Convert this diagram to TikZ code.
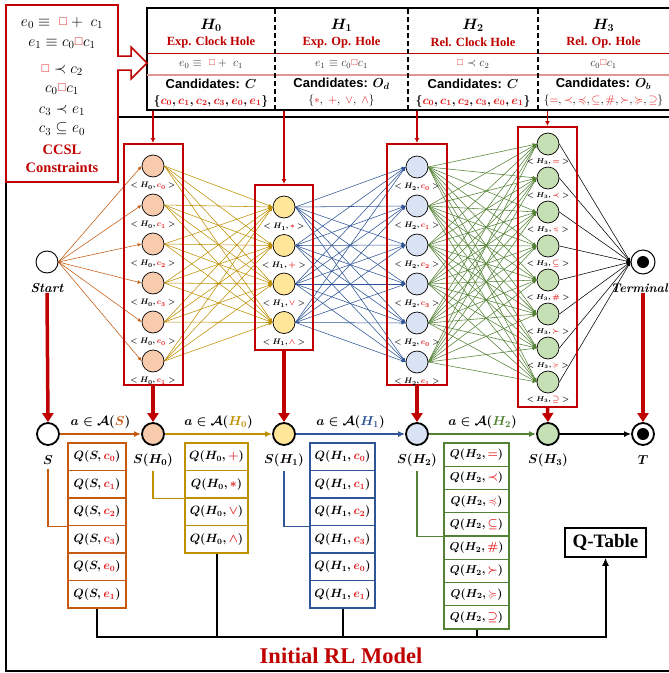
\documentclass[tikz,border=0pt]{standalone}
\usepackage{fix-cm}
\usepackage{graphicx}
\usepackage{amsmath,amssymb}
\usepackage[no-math]{fontspec}
\usetikzlibrary{arrows.meta}
\newfontfamily\serifb{Liberation Serif}
\newfontfamily\sansb{Liberation Sans}
\definecolor{cred}{RGB}{192,0,0}
\definecolor{tred}{RGB}{225,25,25}
\definecolor{lred}{RGB}{225,150,150}
\definecolor{corange}{RGB}{197,90,17}
\definecolor{cgold}{RGB}{191,144,0}
\definecolor{cblue}{RGB}{47,85,151}
\definecolor{cgreen}{RGB}{84,130,53}
\definecolor{fpeach}{RGB}{248,203,173}
\definecolor{fyellow}{RGB}{255,230,153}
\definecolor{fblue}{RGB}{218,227,243}
\definecolor{fgreen}{RGB}{197,224,180}
\definecolor{fgray}{RGB}{50,50,50}
\newcommand{\rc}[1]{\textcolor{tred}{#1}}
\newcommand{\sq}{\mathord{\textcolor{tred}{\raisebox{0.15ex}{\scalebox{0.72}{$\square$}}}}}
\newcommand{\myfs}[1]{\fontsize{#1}{#1}\selectfont}
\pgfdeclarelayer{bg}
\pgfsetlayers{bg,main}
\begin{document}
\begin{tikzpicture}[x=1pt,y=-1pt,
  net/.style={circle,draw=black,line width=0.7pt,minimum size=22pt,inner sep=0pt},
  st/.style={circle,draw=black,line width=1.8pt,minimum size=22pt,inner sep=0pt},
  nlab/.style={inner sep=0pt,font=\myfs{8}\boldmath},
  nlabs/.style={inner sep=0pt,font=\myfs{7}\boldmath},
  slab/.style={inner sep=0pt,font=\myfs{13}\boldmath},
  boxr/.style={draw=cred,line width=2pt,inner sep=0pt},
  tarr/.style={draw=cred,line width=1.2pt,-{Latex[length=5pt,width=5pt]}},
  barr/.style={draw=cred,line width=3.5pt,-{Triangle[length=9pt,width=11pt]}},
  edg/.style={line width=0.55pt,-{Latex[length=4pt,width=3.5pt]}},
  qcell/.style={draw,line width=1.3pt,fill=white,inner sep=0pt,font=\myfs{12}\boldmath},
  conn/.style={line width=1.3pt},
  flow/.style={line width=1.8pt,-{Latex[length=7pt,width=6pt]}},
  hdr/.style={inner sep=0pt,font=\myfs{15}\boldmath},
  tsub/.style={inner sep=0pt,text=cred,font=\serifb\bfseries\myfs{12.5}},
  frm/.style={inner sep=0pt,text=fgray,font=\myfs{12}},
  cand/.style={inner sep=0pt,font=\sansb\bfseries\myfs{13}},
  setb/.style={inner sep=0pt,font=\myfs{12}\boldmath},
  setn/.style={inner sep=0pt,font=\myfs{11.5}},
  ccs/.style={inner sep=0pt,font=\myfs{15.5}},
  elab/.style={inner sep=0pt,text=black,font=\myfs{13}\boldmath}
]
\useasboundingbox (0,0) rectangle (669,673);
\begin{pgfonlayer}{bg}
\fill[white] (0,0) rectangle (669,673);
\end{pgfonlayer}
% outer frame
\draw[line width=1.3pt] (6,117) -- (6,671) -- (675,671);
\draw[line width=1.3pt] (6,117) -- (675,117);
% top table
\draw[line width=2pt] (675,8) -- (147,8) -- (147,110) -- (675,110);
\draw[cred,line width=0.8pt] (147,53) -- (675,53);
\draw[lred,line width=1.6pt] (147,75) -- (675,75);
\foreach \x in {275,408,538} \draw[line width=1.6pt,dash pattern=on 5pt off 3pt] (\x,9) -- (\x,109);
\node[hdr] (h0) at (211,25) {$H_0$};
\node[hdr] (h1) at (341.5,25) {$H_1$};
\node[hdr] (h2) at (473,25) {$H_2$};
\node[hdr] (h3) at (603.5,25) {$H_3$};
\node[tsub] (t0) at (211,42) {Exp. Clock Hole};
\node[tsub] (t1) at (341.5,42) {Exp. Op. Hole};
\node[tsub] (t2) at (473,42) {Rel. Clock Hole};
\node[tsub] (t3) at (603.5,42) {Rel. Op. Hole};
\node[frm] (f0) at (211,64) {$e_0\equiv\;\sq+\;c_1$};
\node[frm] (f1) at (341.5,64) {$e_1\equiv c_0\sq c_1$};
\node[frm] (f2) at (473,64) {$\sq\prec c_2$};
\node[frm] (f3) at (603.5,64) {$c_0\sq c_1$};
\node[cand] (k0) at (211,84) {Candidates: {\boldmath$C$}};
\node[cand] (k1) at (341.5,84) {Candidates: {\boldmath$O_d$}};
\node[cand] (k2) at (473,84) {Candidates: {\boldmath$C$}};
\node[cand] (k3) at (603.5,84) {Candidates: {\boldmath$O_b$}};
\node[setb] (set0) at (211,101) {$\{\rc{c_0},\rc{c_1},\rc{c_2},\rc{c_3},\rc{e_0},\rc{e_1}\}$};
\node[setn] (set1) at (341.5,101) {$\{\rc{\ast},\;\rc{+},\;\rc{\vee},\;\rc{\wedge}\}$};
\node[setb] (set2) at (473,101) {$\{\rc{c_0},\rc{c_1},\rc{c_2},\rc{c_3},\rc{e_0},\rc{e_1}\}$};
\node[setn] (set3) at (603.5,101) {$\{\rc{=},\rc{\prec},\rc{\preccurlyeq},\rc{\subseteq},\rc{\#},\rc{\succ},\rc{\succcurlyeq},\rc{\supseteq}\}$};
% CCSL box
\node[draw=cred,line width=2pt,fill=white,minimum width=112pt,minimum height=177pt,inner sep=0pt] (ccsl) at (62,93.5) {};
\node[ccs] (c1) at (62,23) {$e_0\equiv\;\sq+\;c_1$};
\node[ccs] (c2) at (62,43) {$e_1\equiv c_0\sq c_1$};
\node[ccs] (c3) at (62,70) {$\sq\prec c_2$};
\node[ccs] (c4) at (62,89) {$c_0\sq c_1$};
\node[ccs] (c5) at (62,110) {$c_3\prec e_1$};
\node[ccs] (c6) at (62,129) {$c_3\subseteq e_0$};
\node[inner sep=0pt,text=cred,font=\serifb\bfseries\myfs{14.5}] (c7) at (62,150) {CCSL};
\node[inner sep=0pt,text=cred,font=\serifb\bfseries\myfs{14.5}] (c8) at (62,168) {Constraints};
\draw[cred,line width=1.5pt,fill=white,line join=miter] (117,56) -- (131,56) -- (131,47) -- (147,63) -- (131,79) -- (131,70) -- (117,70);
% boxes of the network
\node[boxr,minimum width=59pt,minimum height=241pt] (bx0) at (153,264.5) {};
\node[boxr,minimum width=58pt,minimum height=165pt] (bx1) at (284,267.5) {};
\node[boxr,minimum width=60pt,minimum height=241pt] (bx2) at (417,264.5) {};
\node[boxr,minimum width=59pt,minimum height=280pt] (bx3) at (547.5,267) {};
\coordinate (tb0) at (153,111);
\coordinate (tb1) at (284,111);
\coordinate (tb2) at (417,111);
\coordinate (tb3) at (547.5,111);
\draw[tarr] (tb0) -- (bx0.north);
\draw[tarr] (tb1) -- (bx1.north);
\draw[tarr] (tb2) -- (bx2.north);
\draw[tarr] (tb3) -- (bx3.north);
% network nodes
\node[net,line width=0.9pt,fill=white] (start) at (47,262) {};
\node[inner sep=0pt,font=\myfs{13}\bfseries\itshape] (startl) at (47,288) {Start};
\foreach \lab [count=\i from 0] in {c_0,c_1,c_2,c_3,e_0,e_1}{
  \node[net,fill=fpeach] (a\i) at (153,{166+39*\i}) {};
  \node[nlab] (al\i) at (153,{186+39*\i}) {$<H_0,\rc{\lab}>$};
}
\foreach \lab [count=\i from 0] in {\ast,+,\vee,\wedge}{
  \node[net,fill=fyellow] (b\i) at (284,{207+38.5*\i}) {};
  \node[nlab] (bl\i) at (284,{227+38.5*\i}) {$<H_1,\rc{\lab}>$};
}
\foreach \lab [count=\i from 0] in {c_0,c_1,c_2,c_3,e_0,e_1}{
  \node[net,fill=fblue] (c\i) at (417,{167+39*\i}) {};
  \node[nlab] (cl\i) at (417,{187+39*\i}) {$<H_2,\rc{\lab}>$};
}
\foreach \lab [count=\i from 0] in {=,\prec,\preccurlyeq,\subseteq,\#,\succ,\succcurlyeq,\supseteq}{
  \node[net,fill=fgreen] (d\i) at (548,{144+34*\i}) {};
  \node[nlabs] (dl\i) at (548,{162+34*\i}) {$<H_3,\rc{\lab}>$};
}
\node[circle,draw=black,line width=1pt,fill=white,minimum size=24pt,inner sep=0pt] (term) at (643,262) {};
\node[circle,fill=black,minimum size=12pt,inner sep=0pt] (termin) at (643,262) {};
\node[inner sep=0pt,anchor=east,font=\myfs{12.5}\bfseries\itshape] (terml) at (668,288) {Terminal};
\begin{pgfonlayer}{bg}
\foreach \i in {0,...,5} \draw[edg,corange] (start.east) -- (a\i.west);
\foreach \i in {0,...,5} \foreach \j in {0,...,3} \draw[edg,cgold] (a\i.east) -- (b\j.west);
\foreach \i in {0,...,3} \foreach \j in {0,...,5} \draw[edg,cblue] (b\i.east) -- (c\j.west);
\foreach \i in {0,...,5} \foreach \j in {0,...,7} \draw[edg,cgreen] (c\i.east) -- (d\j.west);
\foreach \i in {0,...,7} \draw[edg,black] (d\i.east) -- (term.west);
\end{pgfonlayer}
% bottom states
\node[st,fill=white] (s0) at (48,434) {};
\node[st,fill=fpeach] (s1) at (153,434) {};
\node[st,fill=fyellow] (s2) at (284,434) {};
\node[st,fill=fblue] (s3) at (417,434) {};
\node[st,fill=fgreen] (s4) at (548,434) {};
\node[st,fill=white] (s5) at (643,434) {};
\node[circle,fill=black,minimum size=12pt,inner sep=0pt] (s5in) at (643,434) {};
\node[slab] (sl0) at (48,460) {$S$};
\node[slab] (sl1) at (153,460) {$S(H_0)$};
\node[slab] (sl2) at (284,460) {$S(H_1)$};
\node[slab] (sl3) at (417,460) {$S(H_2)$};
\node[slab] (sl4) at (548,460) {$S(H_3)$};
\node[slab] (sl5) at (643,460) {$T$};
\draw[flow,corange] (s0) -- node[elab,above=4pt] (e0) {$a\in\mathcal{A}(\textcolor{corange}{S})$} (s1);
\draw[flow,cgold] (s1) -- node[elab,above=4pt] (e1) {$a\in\mathcal{A}(\textcolor{cgold}{H_0})$} (s2);
\draw[flow,cblue] (s2) -- node[elab,above=4pt] (e2) {$a\in\mathcal{A}(\textcolor{cblue}{H_1})$} (s3);
\draw[flow,cgreen] (s3) -- node[elab,above=4pt] (e3) {$a\in\mathcal{A}(\textcolor{cgreen}{H_2})$} (s4);
\draw[flow,black] (s4) -- (s5);
% big red arrows
\draw[barr] (startl.south) -- (s0.north);
\draw[barr] (bx0.south) -- (s1.north);
\draw[barr] (bx1.south) -- (s2.north);
\draw[barr] (bx2.south) -- (s3.north);
\draw[barr] (bx3.south) -- (s4.north);
\draw[barr] (s5.north |- terml.south) -- (s5.north);
% Q tables
\foreach \lab [count=\i] in {c_0,c_1,c_2,c_3,e_0,e_1}
  \node[qcell,draw=corange,minimum width=58pt,minimum height=27.5pt] (qs\i) at (97,{443+27.5*(\i-0.5)}) {$Q(S,\rc{\lab})$};
\foreach \lab [count=\i] in {+,\ast,\vee,\wedge}
  \node[qcell,draw=cgold,minimum width=63pt,minimum height=27.5pt] (qa\i) at (216.5,{443+27.5*(\i-0.5)}) {$Q(H_0,\rc{\lab})$};
\foreach \lab [count=\i] in {c_0,c_1,c_2,c_3,e_0,e_1}
  \node[qcell,draw=cblue,minimum width=65pt,minimum height=27.5pt] (qb\i) at (342.5,{443+27.5*(\i-0.5)}) {$Q(H_1,\rc{\lab})$};
\foreach \lab [count=\i] in {=,\prec,\preccurlyeq,\subseteq,\#,\succ,\succcurlyeq,\supseteq}
  \node[qcell,draw=cgreen,minimum width=65pt,minimum height=23.25pt,font=\myfs{11.5}\boldmath] (qc\i) at (476.5,{443+23.25*(\i-0.5)}) {$Q(H_2,\rc{\lab})$};
\draw[conn,corange] ([yshift=-4pt]sl0.south) |- (qs3.south west);
\draw[conn,cgold] ([yshift=-4pt]sl1.south) |- (qa2.south west);
\draw[conn,cblue] ([yshift=-4pt]sl2.south) |- (qb3.south west);
\draw[conn,cgreen] ([yshift=-4pt]sl3.south) |- (qc4.south west);
% Q-Table
\node[draw,line width=1.5pt,minimum width=81pt,minimum height=29pt,inner sep=0pt,font=\serifb\bfseries\myfs{19}] (qtab) at (605.5,542.5) {Q-Table};
\coordinate (yb) at (0,637);
\draw[line width=2pt,-{Latex[length=8pt,width=7pt]}] (qs6.south) |- (qtab.south |- yb) -- (qtab.south);
\foreach \n in {qa4,qb6,qc8} \draw[line width=2pt] (\n.south) -- (\n.south |- yb);
\node[inner sep=0pt,text=cred,font=\serifb\bfseries\myfs{22.5}] (title) at (341,656) {Initial RL Model};
\end{tikzpicture}
\end{document}
